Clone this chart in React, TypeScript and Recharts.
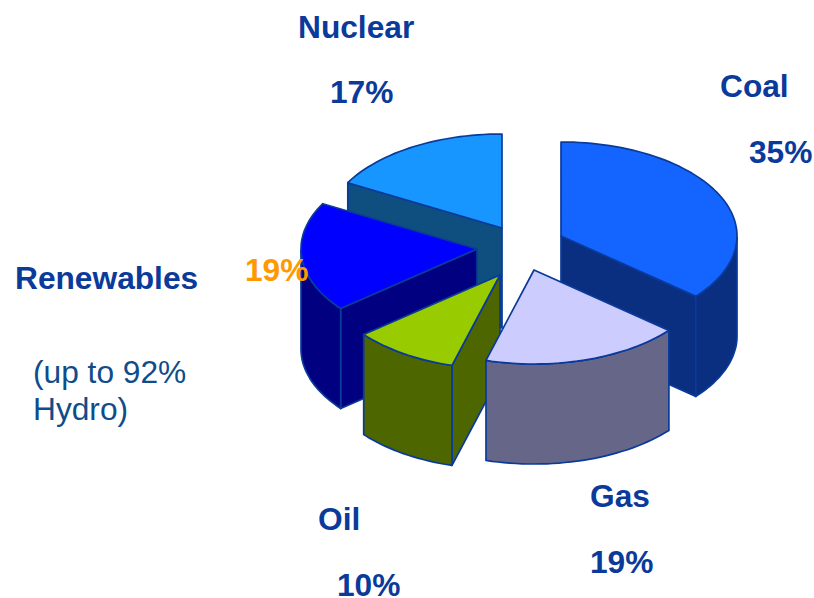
import { PieChart, Pie } from 'recharts';

// ---------------------------------------------------------------------------
// Data
// ---------------------------------------------------------------------------
const NAMES = ['Coal', 'Gas', 'Oil', 'Renewables', 'Nuclear'];
// percentages as printed next to the slices
const LABEL_SHARES = [35, 19, 10, 19, 17];
const DRAWN_SHARES = [36.1, 18.3, 9.7, 18.9, 17];
const NOTE_LINES = ['(up to 92%', 'Hydro)'];

const chartData = NAMES.map((name, i) => ({ name, value: DRAWN_SHARES[i], label: LABEL_SHARES[i] }));

// ---------------------------------------------------------------------------
// Look of the fake 3D pie
// ---------------------------------------------------------------------------
const WIDTH = 814;
const HEIGHT = 598;
const CX = 520;
const CY = 250;
const RADIUS = 176;
const TILT = 94 / 176; // vertical squash of the disc
const DEPTH = 100;
const EDGE = '#0a3a9a';
const TEXT_BLUE = '#0a3a9a';
const NOTE_BLUE = '#0f4c8a';
const ORANGE = '#ff9900';
const FONT = '"Liberation Sans", Arial, sans-serif';
const FONT_SIZE = 31.7;

// back slices first, so the front ones overlap them
const PAINT_ORDER = ['Nuclear', 'Renewables', 'Coal', 'Oil', 'Gas'];

const SLICE_STYLE: Record<string, { top: string; side: string; dx: number; dy: number }> = {
  Coal: { top: '#1464ff', side: '#0a2f80', dx: 41, dy: -14 },
  Gas: { top: '#ccccff', side: '#666688', dx: 14, dy: 20 },
  Oil: { top: '#99cc00', side: '#4d6600', dx: -20, dy: 25 },
  Renewables: { top: '#0000ff', side: '#000080', dx: -43, dy: -1 },
  Nuclear: { top: '#1896ff', side: '#0f4f80', dx: -18, dy: -22 },
};

const LABEL_POS: Record<string, { name: [number, number]; pct: [number, number]; color?: string }> = {
  Coal: { name: [720, 97], pct: [749, 163] },
  Gas: { name: [590, 507], pct: [590, 573] },
  Oil: { name: [318, 530], pct: [337, 596] },
  Renewables: { name: [15, 289], pct: [245, 281], color: ORANGE },
  Nuclear: { name: [298, 38], pct: [330, 103] },
};

// ---------------------------------------------------------------------------
// Custom sector: projects the angles Recharts computed onto a tilted disc
// ---------------------------------------------------------------------------
function Slice(props: any) {
  const { cx, cy, outerRadius, startAngle, endAngle, name } = props;
  const style = SLICE_STYLE[name];
  const ox = cx + style.dx;
  const oy = cy + style.dy;

  const rim = (deg: number, drop = 0): [number, number] => {
    const a = (deg * Math.PI) / 180;
    return [ox + outerRadius * Math.cos(a), oy - outerRadius * TILT * Math.sin(a) + drop];
  };
  const toPath = (pts: [number, number][]) =>
    'M' + pts.map((p) => `${p[0].toFixed(1)},${p[1].toFixed(1)}`).join('L') + 'Z';

  const arc = (from: number, to: number, drop = 0) => {
    const pts: [number, number][] = [];
    const n = Math.max(2, Math.ceil(Math.abs(to - from) / 2));
    for (let i = 0; i <= n; i++) pts.push(rim(from + ((to - from) * i) / n, drop));
    return pts;
  };

  const cut = (deg: number) =>
    toPath([[ox, oy], rim(deg), rim(deg, DEPTH), [ox, oy + DEPTH]]);
  const cos = (deg: number) => Math.cos((deg * Math.PI) / 180);

  // a cut face shows only when it turns towards the viewer
  const showStart = cos(startAngle) < -1e-6;
  const showEnd = cos(endAngle) > 1e-6;

  // the part of the rim on the near half of the disc has a wall
  let wall: string | null = null;
  const steps = Math.ceil(startAngle - endAngle);
  const near: number[] = [];
  for (let i = 0; i <= steps; i++) {
    const deg = startAngle + ((endAngle - startAngle) * i) / steps;
    if (Math.sin((deg * Math.PI) / 180) <= 0) near.push(deg);
  }
  if (near.length > 1) {
    const a = near[0];
    const b = near[near.length - 1];
    wall = toPath([...arc(a, b), ...arc(b, a, DEPTH)]);
  }

  const top = toPath([[ox, oy], ...arc(startAngle, endAngle)]);

  return (
    <g stroke={EDGE} strokeWidth={1.7} strokeLinejoin="round">
      {showStart && <path d={cut(startAngle)} fill={style.side} />}
      {showEnd && <path d={cut(endAngle)} fill={style.side} />}
      {wall && <path d={wall} fill={style.side} />}
      <path d={top} fill={style.top} />
    </g>
  );
}

const sliceFor = (only: string) => (props: any) =>
  props.name === only ? <Slice {...props} /> : <g />;

// ---------------------------------------------------------------------------
// Component
// ---------------------------------------------------------------------------
export default function App() {
  const textStyle = { fontFamily: FONT, fontSize: FONT_SIZE };
  return (
    <div style={{ position: 'absolute', left: 0, top: 0, width: WIDTH, height: HEIGHT, background: '#fff' }}>
      <PieChart width={WIDTH} height={HEIGHT} margin={{ top: 0, right: 0, bottom: 0, left: 0 }}>
        {PAINT_ORDER.map((name) => (
          <Pie
            key={name}
            data={chartData}
            dataKey="value"
            nameKey="name"
            cx={CX}
            cy={CY}
            innerRadius={0}
            outerRadius={RADIUS}
            startAngle={90}
            endAngle={-270}
            stroke="none"
            legendType="none"
            isAnimationActive={false}
            shape={sliceFor(name)}
            inactiveShape={sliceFor(name)}
          />
        ))}
      </PieChart>
      {/* labels sit above the pie: the orange 19% overlaps the Renewables slice */}
      <svg width={WIDTH} height={HEIGHT} style={{ position: 'absolute', left: 0, top: 0, pointerEvents: 'none' }}>
        {chartData.map((d) => {
          const pos = LABEL_POS[d.name];
          return (
            <g key={d.name} style={textStyle} fontWeight={700}>
              <text x={pos.name[0]} y={pos.name[1]} fill={TEXT_BLUE}>{d.name}</text>
              <text x={pos.pct[0]} y={pos.pct[1]} fill={pos.color ?? TEXT_BLUE}>{d.label}%</text>
            </g>
          );
        })}
        <text x={33} y={383} fill={NOTE_BLUE} style={textStyle}>{NOTE_LINES[0]}</text>
        <text x={33} y={420} fill={NOTE_BLUE} style={textStyle}>{NOTE_LINES[1]}</text>
      </svg>
    </div>
  );
}
